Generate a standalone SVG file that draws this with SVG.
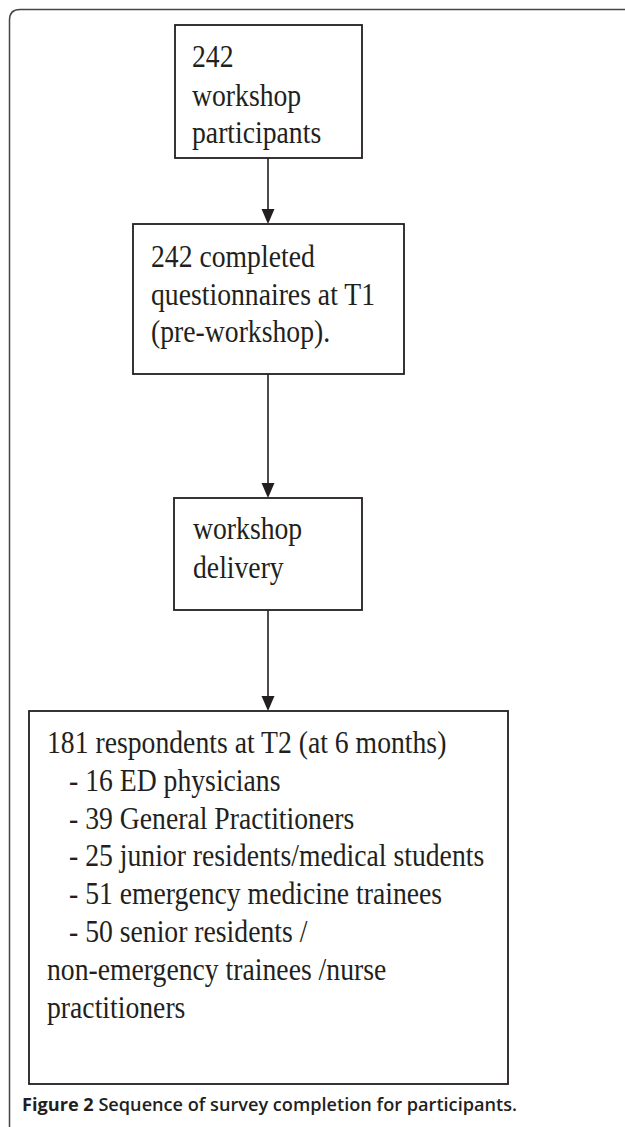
<svg xmlns="http://www.w3.org/2000/svg" width="625" height="1127" viewBox="0 0 625 1127">
<style>
.frame{fill:none;stroke:#444;stroke-width:1.5}
.box{fill:#fff;stroke:#231f20;stroke-width:1.8}
.t{font-family:"Liberation Serif","Times New Roman",serif;font-size:32.5px;fill:#231f20}
.edge{stroke:#231f20;stroke-width:1.6;fill:none}
.head{fill:#231f20}
.cap{font-family:"Open Sans","Liberation Sans",Arial,sans-serif;font-size:18.5px;fill:#231f20;font-weight:600}
</style>
<rect width="625" height="1127" fill="#fff"/>
<path class="frame" d="M9.5,1127 L9.5,20 Q9.5,9.5 20,9.5 L625,9.5"/>
<g id="connectors">
<line class="edge" x1="268" y1="158" x2="268" y2="210"/>
<path class="head" d="M261.5,209 L274.5,209 L268,224 Z"/>
<line class="edge" x1="268" y1="374" x2="268" y2="484"/>
<path class="head" d="M261.5,483 L274.5,483 L268,498 Z"/>
<line class="edge" x1="268" y1="610" x2="268" y2="697"/>
<path class="head" d="M261.5,696 L274.5,696 L268,711 Z"/>
</g>
<g id="node1">
<rect class="box" x="175" y="25" width="187" height="133"/>
<text class="t" transform="translate(192,67) scale(0.852,1)">242</text>
<text class="t" transform="translate(192,106) scale(0.852,1)">workshop</text>
<text class="t" transform="translate(192,143) scale(0.852,1)">participants</text>
</g>
<g id="node2">
<rect class="box" x="133" y="224" width="271" height="150"/>
<text class="t" transform="translate(151,267) scale(0.852,1)">242 completed</text>
<text class="t" transform="translate(151,305) scale(0.852,1)">questionnaires at T1</text>
<text class="t" transform="translate(151,342) scale(0.852,1)">(pre-workshop).</text>
</g>
<g id="node3">
<rect class="box" x="174" y="498" width="188" height="112"/>
<text class="t" transform="translate(193,539) scale(0.852,1)">workshop</text>
<text class="t" transform="translate(193,578) scale(0.852,1)">delivery</text>
</g>
<g id="node4">
<rect class="box" x="29" y="711" width="479" height="373"/>
<text class="t" transform="translate(47,753) scale(0.852,1)">181 respondents at T2 (at 6 months)</text>
<text class="t" transform="translate(69,791) scale(0.852,1)">- 16 ED physicians</text>
<text class="t" transform="translate(69,829) scale(0.852,1)">- 39 General Practitioners</text>
<text class="t" transform="translate(69,866) scale(0.852,1)">- 25 junior residents/medical students</text>
<text class="t" transform="translate(69,904) scale(0.852,1)">- 51 emergency medicine trainees</text>
<text class="t" transform="translate(69,942) scale(0.852,1)">- 50 senior residents /</text>
<text class="t" transform="translate(47,980) scale(0.852,1)">non-emergency trainees /nurse</text>
<text class="t" transform="translate(47,1018) scale(0.852,1)">practitioners</text>
</g>
<g id="caption">
<text class="cap" x="22" y="1111" textLength="495" lengthAdjust="spacingAndGlyphs"><tspan font-weight="700">Figure 2</tspan> Sequence of survey completion for participants.</text>
</g>
</svg>
